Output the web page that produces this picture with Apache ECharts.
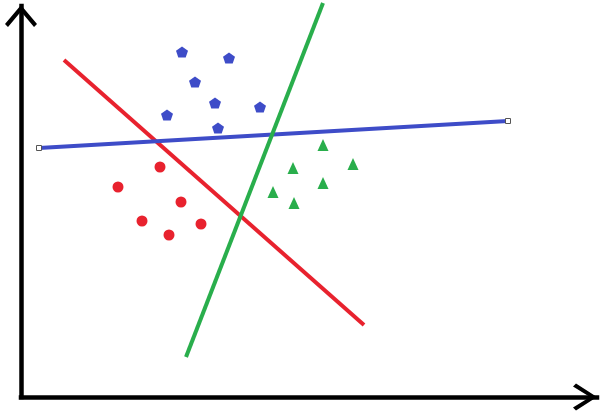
<!DOCTYPE html>
<html>
<head>
<meta charset="utf-8">
<script src="https://cdn.jsdelivr.net/npm/echarts@6/dist/echarts.min.js"></script>
<style>html,body{margin:0;padding:0;background:#fff}#c{width:607px;height:413px}</style>
</head>
<body>
<div id="c"></div>
<script>
// Data (x, y) in chart units, origin at the axes' corner
var bluePoints = [[161,345],[208,339],[174,315],[194,294],[239,290],[146,282],[197,269]];
var redPoints = [[139,230],[97,210],[160,195],[121,176],[180,173],[148,162]];
var greenPoints = [[302,252],[272,229],[332,233],[302,214],[252,205],[273,194]];
var redLine = [[43,337],[343,72]];
var greenLine = [[165,40],[302,394]];
var blueLine = [[18,249],[487,276]];
var xMax = 576;
var yMax = 391;

var RED = '#e8222e', GREEN = '#29ae4c', BLUE = '#3e4cc8';
var pentagon = 'path://M0,-1 L0.951,-0.309 L0.588,0.809 L-0.588,0.809 L-0.951,-0.309 Z';
var chevY = 'path://M16,0 L32,19 L29,22 L16,6.5 L3,22 L0,19 Z';
var chevX = 'path://M13.5,0 L27,21 L24,24 L13.5,7 L3,24 L0,21 Z';

var chart = echarts.init(document.getElementById('c'), null, {renderer: 'canvas'});
chart.setOption({
  animation: false,
  backgroundColor: '#fff',
  grid: {left: 21, right: 10, top: 6, bottom: 16},
  xAxis: {
    type: 'value', min: 0, max: xMax,
    splitLine: {show: false}, axisTick: {show: false}, axisLabel: {show: false},
    axisLine: {show: true, symbol: ['none', chevX], symbolSize: [27, 24], symbolOffset: [0, -12],
      lineStyle: {color: '#000', width: 4.5, cap: 'square'}}
  },
  yAxis: {
    type: 'value', min: 0, max: yMax,
    splitLine: {show: false}, axisTick: {show: false}, axisLabel: {show: false},
    axisLine: {show: true, symbol: ['none', chevY], symbolSize: [32, 22], symbolOffset: [0, -10],
      lineStyle: {color: '#000', width: 4.5, cap: 'square'}}
  },
  series: [
    {type: 'scatter', data: bluePoints, symbol: pentagon, symbolSize: [12, 11], symbolKeepAspect: false,
      itemStyle: {color: BLUE, opacity: 1}},
    {type: 'scatter', data: redPoints, symbol: 'circle', symbolSize: 11, itemStyle: {color: RED, opacity: 1}},
    {type: 'scatter', data: greenPoints, symbol: 'triangle', symbolSize: [11, 12], itemStyle: {color: GREEN, opacity: 1}},
    {type: 'line', data: redLine, clip: false, showSymbol: false, symbol: 'none',
      lineStyle: {color: RED, width: 4}},
    {type: 'line', data: blueLine, clip: false, symbol: 'rect', symbolSize: 5, showSymbol: true,
      itemStyle: {color: '#fff', borderColor: '#555', borderWidth: 1},
      lineStyle: {color: BLUE, width: 4}},
    {type: 'line', data: greenLine, clip: false, showSymbol: false, symbol: 'none',
      lineStyle: {color: GREEN, width: 4}}
  ]
});
</script>
</body>
</html>
